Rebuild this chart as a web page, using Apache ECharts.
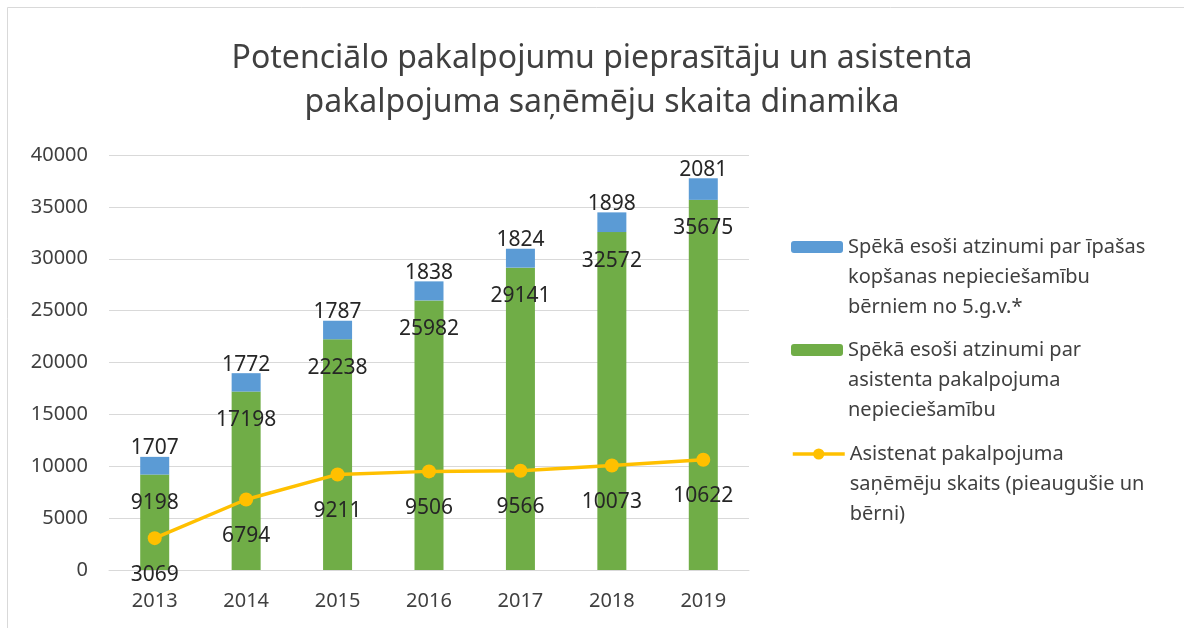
<!DOCTYPE html>
<html>
<head>
<meta charset="utf-8">
<script src="https://cdn.jsdelivr.net/npm/echarts@6/dist/echarts.min.js"></script>
<style>
    html, body { margin: 0; padding: 0; background: #fff; }
    #chart { width: 1184px; height: 628px; }
</style>
</head>
<body>
<div id="chart"></div>
<script>
// Chart data
const years = ['2013', '2014', '2015', '2016', '2017', '2018', '2019'];
const assistantNeed = [9198, 17198, 22238, 25982, 29141, 32572, 35675];
const specialCare = [1707, 1772, 1787, 1838, 1824, 1898, 2081];
const recipients = [3069, 6794, 9211, 9506, 9566, 10073, 10622];

const seriesNames = [
    'Spēkā esoši atzinumi par īpašas\nkopšanas nepieciešamību\nbērniem no 5.g.v.*',
    'Spēkā esoši atzinumi par\nasistenta pakalpojuma\nnepieciešamību',
    'Asistenat pakalpojuma\nsaņēmēju skaits (pieaugušie un\nbērni)'
];

const font = 'Noto Sans';
const textColor = '#404040';
const labelColor = '#262626';

// one legend per item so each icon sits next to the first line of its text
const legendTops = [167, 270, 374];
const legends = seriesNames.map((name, i) => ({
    orient: 'vertical',
    left: 786,
    top: legendTops[i],
    itemWidth: 52,
    itemHeight: i === 2 ? 14 : 12,
    data: [name],
    formatter: (n) => '\n\n' + n,
    lineStyle: { width: 3.5 },
    textStyle: {
        fontFamily: font,
        fontSize: 20,
        color: textColor,
        lineHeight: 30
    }
}));

const chart = echarts.init(document.getElementById('chart'));

chart.setOption({
    backgroundColor: '#ffffff',
    animation: false,
    graphic: [{
        type: 'rect',
        shape: { x: 7.5, y: 7.5, width: 1200, height: 640 },
        style: { fill: 'none', stroke: '#d9d9d9', lineWidth: 1 },
        silent: true
    }],
    title: {
        text: 'Potenciālo pakalpojumu pieprasītāju un asistenta\npakalpojuma saņēmēju skaita dinamika',
        left: 597,
        textAlign: 'center',
        top: 32,
        textStyle: {
            fontFamily: font,
            fontSize: 32,
            fontWeight: 'normal',
            color: textColor,
            lineHeight: 44
        }
    },
    legend: legends,
    grid: {
        left: 109,
        top: 155,
        width: 640,
        height: 415
    },
    xAxis: {
        type: 'category',
        data: years,
        axisLine: { lineStyle: { color: '#d9d9d9', width: 1 } },
        axisTick: { show: false },
        axisLabel: {
            fontFamily: font,
            fontSize: 20,
            color: textColor,
            margin: 21
        }
    },
    yAxis: {
        type: 'value',
        min: 0,
        max: 40000,
        interval: 5000,
        axisLine: { show: false },
        axisTick: { show: false },
        splitLine: { lineStyle: { color: '#d9d9d9', width: 1 } },
        axisLabel: {
            fontFamily: font,
            fontSize: 20,
            color: textColor,
            margin: 21,
            formatter: (v) => String(v)
        }
    },
    series: [
        {
            name: seriesNames[1],
            type: 'bar',
            stack: 'total',
            data: assistantNeed,
            barWidth: 29,
            itemStyle: { color: '#70AD47' },
            label: {
                show: true,
                position: 'insideTop',
                distance: 18,
                fontFamily: font,
                fontSize: 21,
                color: labelColor
            }
        },
        {
            name: seriesNames[0],
            type: 'bar',
            stack: 'total',
            data: specialCare,
            barWidth: 29,
            itemStyle: { color: '#5B9BD5' },
            label: {
                show: true,
                position: 'top',
                distance: -2,
                fontFamily: font,
                fontSize: 21,
                color: labelColor
            }
        },
        {
            name: seriesNames[2],
            type: 'line',
            data: recipients,
            z: 5,
            symbol: 'circle',
            symbolSize: 14,
            lineStyle: { color: '#FFC000', width: 3.5 },
            itemStyle: { color: '#FFC000' },
            label: {
                show: true,
                position: 'bottom',
                distance: 19,
                fontFamily: font,
                fontSize: 21,
                color: labelColor
            }
        }
    ]
});
</script>
</body>
</html>
